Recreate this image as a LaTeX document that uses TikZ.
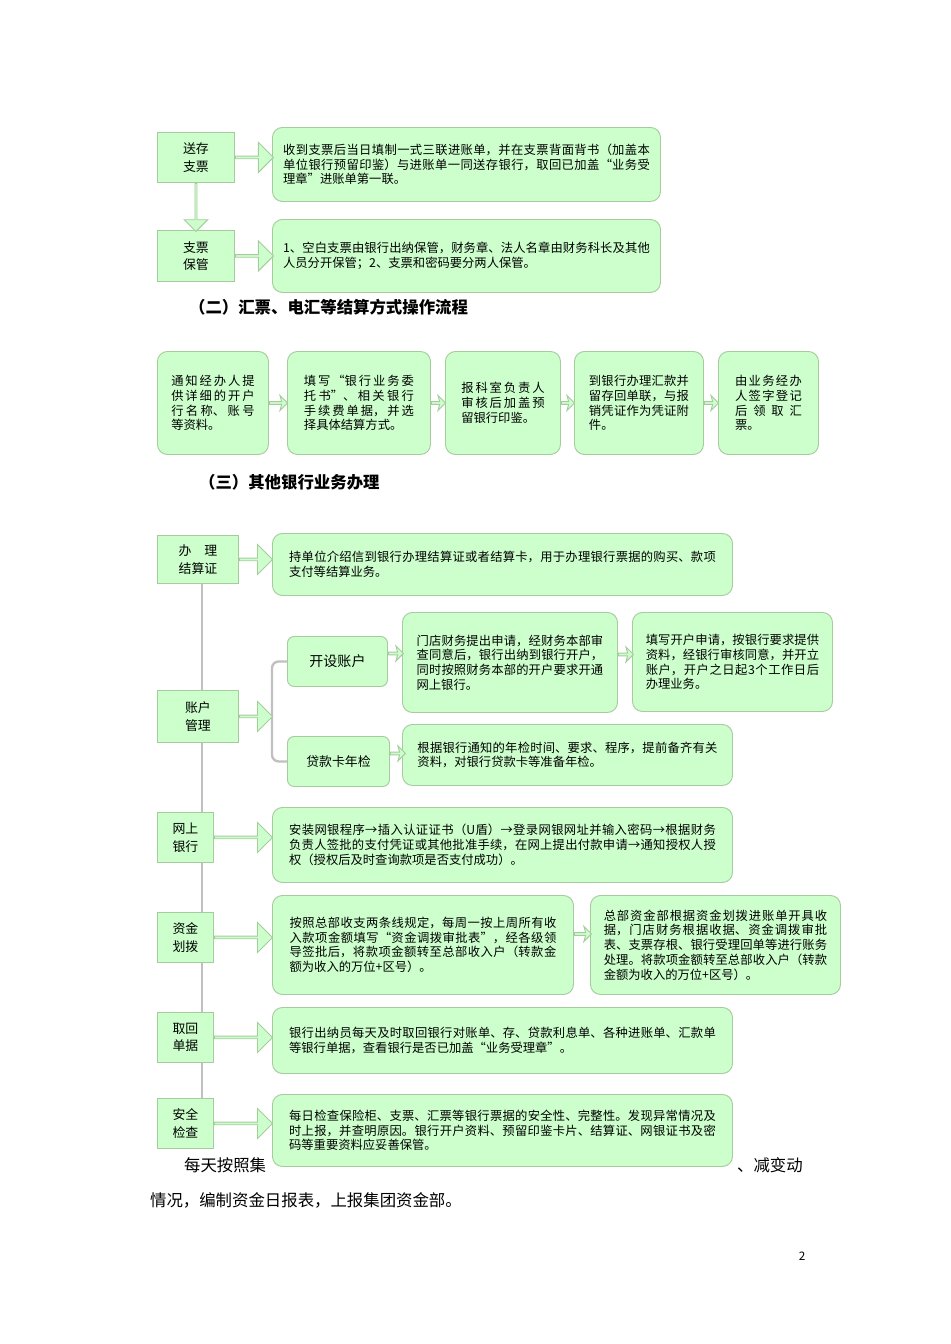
\documentclass[tikz,border=0pt]{standalone}
\usepackage{fontspec}
\setmainfont{Noto Sans CJK SC}
\XeTeXlinebreaklocale "zh"
\XeTeXlinebreakskip=0pt plus 1pt
\usetikzlibrary{positioning, shapes.arrows, calc}
\definecolor{boxgreen}{HTML}{CCFFCC}
\definecolor{boxline}{HTML}{A6CC9E}
\definecolor{spine}{HTML}{C0C0C0}
\tikzset{
  lbox/.style = {draw = boxline, fill = boxgreen, thick, anchor = north west,
    align = left, font = \fontsize{11}{15}\selectfont, inner sep = 2mm},
  tbox/.style = {draw = boxline, fill = boxgreen, thick, rounded corners = 3mm,
    anchor = north west, align = justify, font = \fontsize{10.5}{12.6}\selectfont},
  barrow/.style = {single arrow, draw = boxline, fill = boxgreen, thick,
    anchor = west, inner sep = 0pt, minimum width = 9mm,
    single arrow head extend = 1.5mm},
  sarrow/.style = {single arrow, draw = boxline, fill = boxgreen, thick,
    anchor = west, inner sep = 0pt, minimum width = 4.5mm,
    single arrow head extend = 0.6mm, single arrow head indent = 0.5mm},
  head/.style = {anchor = west, font = \fontsize{14}{16}\bfseries\selectfont},
  body/.style = {anchor = west, font = \fontsize{14}{16}\selectfont}
}
\begin{document}
\begin{tikzpicture}[x = 0.3mm, y = -0.3mm]
  \useasboundingbox (0,0) rectangle (950,1344);

  % (一) cheques
  \node[lbox, minimum width = 23.1mm, minimum height = 15mm] (scz) at (157,132) {送存\\支票};
  \node[lbox, minimum width = 23.1mm, minimum height = 15.3mm] (zpbg) at (157,230) {支票\\保管};
  \node[tbox, minimum width = 116.4mm, minimum height = 22.2mm, text width = 110mm] (scz t) at (272,127)
    {收到支票后当日填制一式三联进账单，并在支票背面背书（加盖本单位银行预留印鉴）与进账单一同送存银行，取回已加盖“业务受理章”进账单第一联。};
  \node[tbox, minimum width = 116.4mm, minimum height = 21.9mm, text width = 110mm] (zpbg t) at (272,219)
    {1、空白支票由银行出纳保管，财务章、法人名章由财务科长及其他人员分开保管；2、支票和密码要分两人保管。};
  \node[barrow, minimum height = 11.4mm] at (scz.east) {};
  \node[barrow, minimum height = 11.4mm] at (zpbg.east) {};
  \node[barrow, minimum height = 14.4mm, rotate = -90, minimum width = 7mm] at (scz.south) {};

  \node[head] (h2) at (185,307) {（二）汇票、电汇等结算方式操作流程};

  % (二) remittance flow
  \node[tbox, minimum width = 33.3mm, minimum height = 30.9mm, text width = 25mm] (tz) at (157,351)
    {通知经办人提供详细的开户行名称、账号等资料。};
  \node[tbox, minimum width = 42.9mm, minimum height = 30.9mm, text width = 33mm] (tx) at (287,351)
    {填写“银行业务委托书”、相关银行手续费单据，并选择具体结算方式。};
  \node[tbox, minimum width = 34.5mm, minimum height = 30.9mm, text width = 25mm] (bk) at (445,351)
    {报科室负责人审核后加盖预留银行印鉴。};
  \node[tbox, minimum width = 38.7mm, minimum height = 30.9mm, text width = 30mm] (dy) at (574,351)
    {到银行办理汇款并留存回单联，与报销凭证作为凭证附件。};
  \node[tbox, minimum width = 30mm, minimum height = 30.9mm, text width = 20mm] (yw) at (718,351)
    {由业务经办人签字登记后领取汇票。};
  \foreach \src/\dst in {tz/tx, tx/bk, bk/dy, dy/yw}
    \path let \p1 = (\src.east), \p2 = (\dst.west) in
      node[sarrow, minimum height = \x2-\x1] at (\src.east) {};

  \node[head] (h3) at (195,482) {（三）其他银行业务办理};

  % (三) other bank business
  \draw[spine, line width = 1.2pt] (202,583) -- (202,1098);

  \node[body] at (180,1165) {每天按照集};
  \node[body] at (733,1165) {、减变动};
  \node[body] at (146,1200) {情况，编制资金日报表，上报集团资金部。};
  \node[font = \fontsize{10}{12}\selectfont] at (802,1256) {2};

  \node[lbox, minimum width = 24.3mm, minimum height = 14.4mm] (bl) at (157,535) {办\quad 理\\结算证};
  \node[tbox, minimum width = 138mm, minimum height = 18.6mm, text width = 128mm] (bl t) at (272,533)
    {持单位介绍信到银行办理结算证或者结算卡，用于办理银行票据的购买、款项支付等结算业务。};

  \node[lbox, minimum width = 24.3mm, minimum height = 15.6mm] (zh) at (157,690) {账户\\管理};
  \node[lbox, rounded corners = 2mm, minimum width = 30mm, minimum height = 15mm, font = \fontsize{12}{15}\selectfont] (ks) at (287,636) {开设账户};
  \node[lbox, rounded corners = 2mm, minimum width = 30.6mm, minimum height = 15mm] (dk) at (287,736) {贷款卡年检};
  \node[tbox, minimum width = 64.5mm, minimum height = 30mm, text width = 56mm] (md) at (402,612)
    {门店财务提出申请，经财务本部审查同意后，银行出纳到银行开户，同时按照财务本部的开户要求开通网上银行。};
  \node[tbox, minimum width = 60mm, minimum height = 29.7mm, text width = 52mm] (kh) at (632,612)
    {填写开户申请，按银行要求提供资料，经银行审核同意，并开立账户，开户之日起3个工作日后办理业务。};
  \node[tbox, minimum width = 99mm, minimum height = 18.3mm, text width = 90mm] (nj) at (402,724)
    {根据银行通知的年检时间、要求、程序，提前备齐有关资料，对银行贷款卡等准备年检。};
  \draw[spine, line width = 2pt, rounded corners = 2mm] (ks.west) -- ++(-15,0) |- (dk.west);
  \node[sarrow, minimum height = 4.5mm] at ([yshift = 2.4mm]ks.east) {};
  \node[sarrow, minimum height = 4.5mm] at ([yshift = 2.4mm]md.east) {};
  \node[sarrow, minimum height = 4.5mm] at ([yshift = 2.4mm]dk.east) {};

  \node[lbox, minimum width = 16.8mm, minimum height = 15mm] (ws) at (157,812) {网上\\银行};
  \node[tbox, minimum width = 138mm, minimum height = 22.5mm, text width = 128mm] (ws t) at (272,807)
    {安装网银程序→插入认证证书（U盾）→登录网银网址并输入密码→根据财务负责人签批的支付凭证或其他批准手续，在网上提出付款申请→通知授权人授权（授权后及时查询款项是否支付成功）。};

  \node[lbox, minimum width = 16.8mm, minimum height = 15mm] (zj) at (157,912) {资金\\划拨};
  \node[tbox, minimum width = 90.3mm, minimum height = 29.7mm, text width = 80mm] (zj t) at (272,895)
    {按照总部收支两条线规定，每周一按上周所有收入款项金额填写“资金调拨审批表”，经各级领导签批后，将款项金额转至总部收入户（转款金额为收入的万位+区号）。};
  \node[tbox, minimum width = 75mm, minimum height = 29.7mm, text width = 67mm] (zb) at (590,895)
    {总部资金部根据资金划拨进账单开具收据，门店财务根据收据、资金调拨审批表、支票存根、银行受理回单等进行账务处理。将款项金额转至总部收入户（转款金额为收入的万位+区号）。};
  \node[sarrow, minimum height = 5.1mm] at ([yshift = 3.3mm]zj t.east) {};

  \node[lbox, minimum width = 16.8mm, minimum height = 15mm] (qh) at (157,1012) {取回\\单据};
  \node[tbox, minimum width = 138mm, minimum height = 19.8mm, text width = 128mm] (qh t) at (272,1007)
    {银行出纳员每天及时取回银行对账单、存、贷款利息单、各种进账单、汇款单等银行单据，查看银行是否已加盖“业务受理章”。};

  \node[lbox, minimum width = 16.8mm, minimum height = 15mm] (aq) at (157,1098) {安全\\检查};
  \node[tbox, minimum width = 138mm, minimum height = 21.6mm, text width = 128mm] (aq t) at (272,1094)
    {每日检查保险柜、支票、汇票等银行票据的安全性、完整性。发现异常情况及时上报，并查明原因。银行开户资料、预留印鉴卡片、结算证、网银证书及密码等重要资料应妥善保管。};

  \foreach \lb/\tb in {bl/bl t, zh/ks, ws/ws t, zj/zj t, qh/qh t, aq/aq t}
    \path let \p1 = (\lb.east) in node[barrow, minimum height = {81.6mm - \x1}] at (\lb.east) {};
\end{tikzpicture}
\end{document}
